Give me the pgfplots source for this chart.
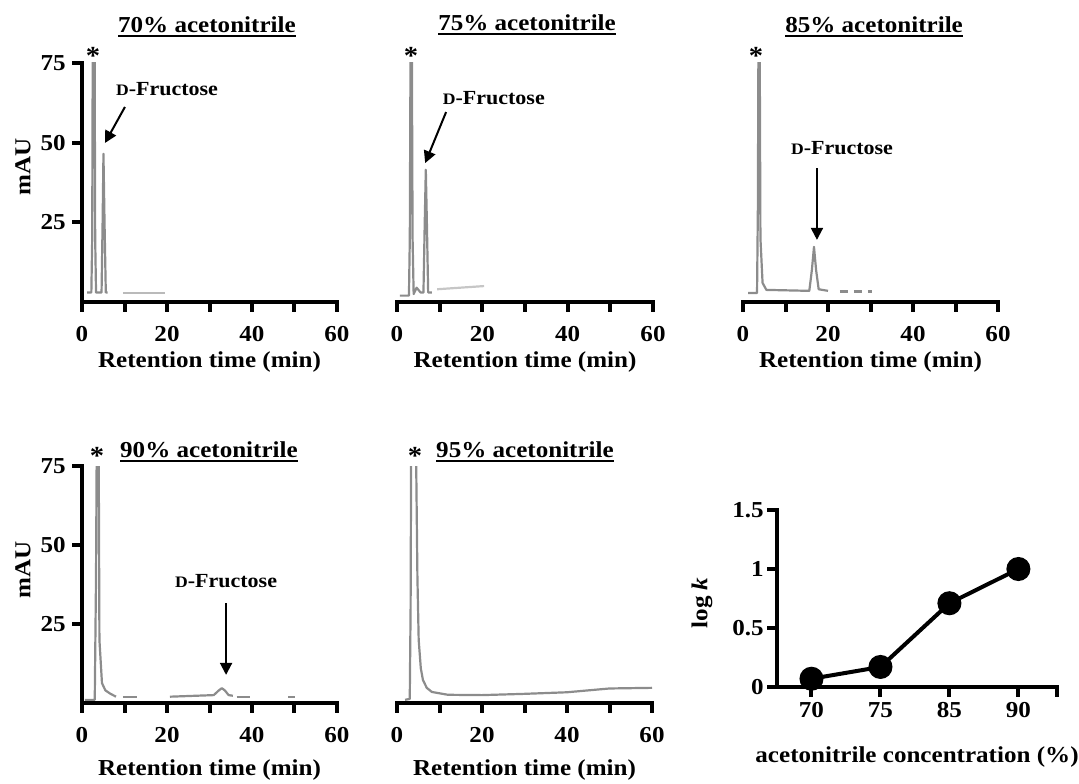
\documentclass[border=0pt]{standalone}
\usepackage{fontspec}
\setmainfont{Liberation Serif}[FakeStretch=1.1]
\usepackage{pgfplots}
\pgfplotsset{compat=1.18}
\usetikzlibrary{arrows.meta}
\definecolor{trace}{RGB}{140,140,140}
\newcommand{\mainf}{\fontsize{11.4}{13}\selectfont\bfseries}
\newcommand{\annf}{\fontsize{10}{11}\selectfont\bfseries}
\newcommand{\ttl}[1]{\setbox0\hbox{#1}\rlap{\raisebox{-2.2pt}{\rule{\wd0}{1pt}}}\box0}
\newcommand{\Dfru}{{\fontsize{8}{9}\selectfont D}-Fructose}
\newcommand{\xax}{%
  \draw[line width=2pt, line cap=rect] (rel axis cs:0,0) -- (rel axis cs:1,0);
  \draw[line width=2pt] (axis cs:0,0) -- ++(0pt,-5pt) (axis cs:10,0) -- ++(0pt,-5pt)
     (axis cs:20,0) -- ++(0pt,-5pt) (axis cs:30,0) -- ++(0pt,-5pt) (axis cs:40,0) -- ++(0pt,-5pt)
     (axis cs:50,0) -- ++(0pt,-5pt) (axis cs:60,0) -- ++(0pt,-5pt);}
\newcommand{\yax}{%
  \draw[line width=2pt, line cap=rect] (rel axis cs:0,0) -- (rel axis cs:0,1);
  \draw[line width=2pt] (axis cs:0,25) -- ++(-5pt,0pt) (axis cs:0,50) -- ++(-5pt,0pt) (axis cs:0,75) -- ++(-5pt,0pt);}
\pgfplotsset{
  chrom/.style={
    scale only axis, width=127.5pt, height=119.5pt,
    xmin=0, xmax=60, ymin=0, ymax=75,
    clip mode=individual,
    axis x line=bottom, axis y line=left,
    axis line style={black, -},
    xtick={0,10,...,60}, xticklabels={0,,20,,40,,60},
    ytick={25,50,75}, yticklabels={25,50,75},
    tick align=outside,
    major tick length=5pt,
    tick style={black},
    tick label style={font=\mainf, inner sep=0pt},
    xticklabel style={anchor=center, yshift=-11pt},
    yticklabel style={anchor=east, xshift=-3pt},
    cycle list={trace, line width=1.1pt, line join=round\\},
  },
  noy/.style={axis y line=none, ytick=\empty},
}
\begin{document}
\begin{tikzpicture}
\useasboundingbox (0,0) rectangle (539.5pt,391.5pt);
% ---------- 70% ----------
\begin{axis}[chrom, at={(41pt,240.5pt)}, anchor=south west]
\addplot coordinates {(1.2,3)(2.2,3)(2.4,20)(2.55,90)(2.95,90)(3.1,20)(3.3,3)(4.6,3)(4.85,25)(5.05,46.5)(5.3,25)(5.6,3)(6,3)};
\addplot[trace!60, line width=1.1pt] coordinates {(9.6,2.8)(19.5,2.8)};
\xax \yax
\node[font=\mainf] at (rel axis cs:0.49,1.15) {\ttl{70\% acetonitrile}};
\node[font=\fontsize{13}{14}\selectfont\bfseries] at (rel axis cs:0.043,1.029) {*};
\node[font=\annf] at (axis cs:20,66.8) {\Dfru};
\draw[black, line width=1pt, -{Triangle[length=6pt,width=6pt]}] (axis cs:10.1,61.2) -- (axis cs:5.4,49.9);
\node[font=\mainf] at (rel axis cs:0.5,0) [yshift=-30pt] {Retention time (min)};
\node[font=\mainf, rotate=90] at ([xshift=-29.5pt]rel axis cs:0,0.565) {mAU};
\end{axis}
% ---------- 75% ----------
\begin{axis}[chrom, noy, width=128pt, at={(198.5pt,240.5pt)}, anchor=south west]
\addplot coordinates {(0.7,2)(2.8,2)(3.0,20)(3.2,90)(3.45,90)(3.65,20)(3.9,2.5)(4.6,4.5)(5.5,3)(6.2,3)(6.5,25)(6.75,41.5)(7.0,25)(7.3,3)(8.2,3)};
\addplot[trace!50, line width=1.1pt] coordinates {(9.4,4)(20.4,5)};
\xax
\node[font=\mainf] at (rel axis cs:0.508,1.159) {\ttl{75\% acetonitrile}};
\node[font=\fontsize{13}{14}\selectfont\bfseries] at (rel axis cs:0.055,1.029) {*};
\node[font=\annf] at (axis cs:22.7,64) {\Dfru};
\draw[black, line width=1pt, -{Triangle[length=6pt,width=6pt]}] (axis cs:11.5,59.6) -- (axis cs:6.6,43.6);
\node[font=\mainf] at (rel axis cs:0.5,0) [yshift=-30pt] {Retention time (min)};
\end{axis}
% ---------- 85% ----------
\begin{axis}[chrom, noy, at={(371.5pt,240.5pt)}, anchor=south west]
\addplot coordinates {(1.2,2.8)(3.3,2.8)(3.5,30)(3.65,90)(3.9,90)(4.1,20)(4.6,6)(5.5,3.8)(15.6,3.5)(16.2,10)(16.7,17.3)(17.2,10)(17.8,4)(20,3.5)};
\addplot[trace, line width=1.1pt, dash pattern=on 4pt off 3pt] coordinates {(22.8,3.3)(30.4,3.3)};
\xax
\node[font=\mainf] at (rel axis cs:0.514,1.15) {\ttl{85\% acetonitrile}};
\node[font=\fontsize{13}{14}\selectfont\bfseries] at (rel axis cs:0.051,1.029) {*};
\node[font=\annf] at (axis cs:23.3,48.3) {\Dfru};
\draw[black, line width=1pt, -{Triangle[length=6pt,width=6pt]}] (axis cs:17.4,42) -- (axis cs:17.4,19.5);
\node[font=\mainf] at (rel axis cs:0.5,0) [yshift=-30pt] {Retention time (min)};
\end{axis}
% ---------- 90% ----------
\begin{axis}[chrom, height=118.5pt, at={(41pt,40pt)}, anchor=south west]
\addplot coordinates {(0.7,1)(3.0,1)(3.3,40)(3.5,90)(3.9,90)(4.1,20)(4.7,6.3)(5.5,4)(6.6,3)(8,2)};
\addplot coordinates {(9.6,2)(12.9,2)};
\addplot coordinates {(20.7,2)(31,2.5)(32.2,4)(32.9,4.7)(33.6,4)(34.5,2.5)(35.5,2.3)};
\addplot coordinates {(36.4,2)(39.5,2)};
\addplot coordinates {(48.5,2)(50.1,2)};
\xax \yax
\node[font=\mainf] at (rel axis cs:0.498,1.059) {\ttl{90\% acetonitrile}};
\node[font=\fontsize{13}{14}\selectfont\bfseries] at (rel axis cs:0.059,1.042) {*};
\node[font=\annf] at (axis cs:33.9,38.6) {\Dfru};
\draw[black, line width=1pt, -{Triangle[length=6pt,width=6pt]}] (axis cs:33.9,31.6) -- (axis cs:33.9,8.9);
\node[font=\mainf] at (rel axis cs:0.5,0) [yshift=-33.5pt] {Retention time (min)};
\node[font=\mainf, rotate=90] at ([xshift=-29.5pt]rel axis cs:0,0.56) {mAU};
\end{axis}
% ---------- 95% ----------
\begin{axis}[chrom, noy, height=118.5pt, at={(198.5pt,40pt)}, anchor=south west]
\addplot coordinates {(1.9,1)(3.0,1.3)(3.2,30)(3.35,90)(4.4,90)(4.8,40)(5.1,20)(5.6,11)(6.1,7.3)(7,4.8)(8.2,3.5)(12,2.6)(20,2.5)(30,2.9)(40,3.4)(50,4.6)(60,4.8)};
\xax
\node[font=\mainf] at (rel axis cs:0.502,1.059) {\ttl{95\% acetonitrile}};
\node[font=\fontsize{13}{14}\selectfont\bfseries] at (rel axis cs:0.071,1.042) {*};
\node[font=\mainf] at (rel axis cs:0.5,0) [yshift=-33.5pt] {Retention time (min)};
\end{axis}
% ---------- log k ----------
\begin{axis}[scale only axis, width=140pt, height=88.5pt, at={(388.5pt,48pt)}, anchor=south west,
  xmin=-0.5, xmax=3.56, ymin=0, ymax=1.5, clip=false,
  axis x line=bottom, axis y line=left,
  axis line style={black, -},
  xtick={0,1,2,3,3.56}, xticklabels={70,75,85,90,},
  ytick={0,0.5,1,1.5}, yticklabels={0,0.5,1,1.5},
  tick align=outside, major tick length=5pt,
  tick style={black},
  tick label style={font=\mainf, inner sep=0pt},
  xticklabel style={anchor=center, yshift=-6.5pt},
  yticklabel style={anchor=east, xshift=-1.5pt},
]
\draw[line width=2pt, line cap=rect] (rel axis cs:0,1) -- (rel axis cs:0,0) -- (rel axis cs:1,0);
\draw[line width=2pt] (axis cs:0,0) -- ++(0pt,-5pt) (axis cs:1,0) -- ++(0pt,-5pt) (axis cs:2,0) -- ++(0pt,-5pt)
  (axis cs:3,0) -- ++(0pt,-5pt) (axis cs:3.56,0) -- ++(0pt,-5pt)
  (axis cs:-0.5,0) -- ++(-5pt,0pt) (axis cs:-0.5,0.5) -- ++(-5pt,0pt) (axis cs:-0.5,1) -- ++(-5pt,0pt) (axis cs:-0.5,1.5) -- ++(-5pt,0pt);
\addplot[black, line width=2pt, mark=*, mark size=5pt] coordinates {(0,0.07)(1,0.17)(2,0.71)(3,1.0)};
\node[font=\mainf] at (rel axis cs:0.5,0) [yshift=-35pt] {acetonitrile concentration (\%)};
\node[font=\mainf, rotate=90] at ([xshift=-37.5pt]rel axis cs:0,0.475) {log \textit{k}};
\end{axis}
\end{tikzpicture}
\end{document}
